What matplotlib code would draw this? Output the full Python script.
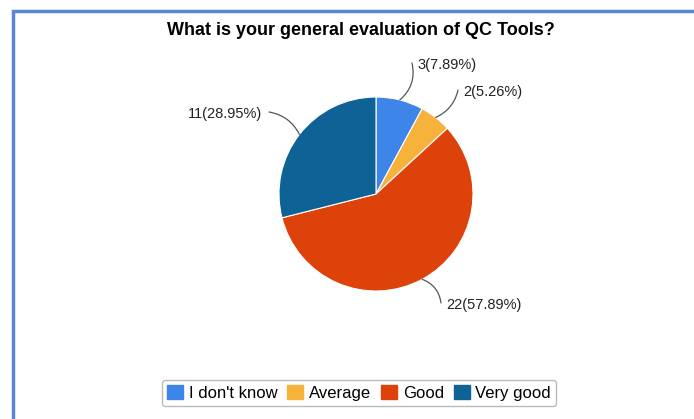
import matplotlib.pyplot as plt
import numpy as np
from matplotlib.patches import Patch

plt.rcParams['font.family'] = ['Liberation Sans', 'DejaVu Sans']

categories = ["I don't know", "Average", "Good", "Very good"]
counts = [3, 2, 22, 11]
colors = ["#3d85e8", "#f7b23b", "#dd420b", "#0e6295"]
title = "What is your general evaluation of QC Tools?"

# label position (pixels from top-left) for each slice
label_pos = [(417, 65), (463, 92), (446, 305), (262, 114)]
label_ha = ["left", "left", "left", "right"]
line_rad = [-0.3, -0.25, 0.3, -0.25]

W, H = 694, 419
fig = plt.figure(figsize=(W / 100, H / 100), dpi=100)
ax = fig.add_axes([0, 0, 1, 1])

cx, cy, r = 376, H - 194, 97
wedges, _ = ax.pie(counts, colors=colors, startangle=90, counterclock=False,
                   center=(cx, cy), radius=r,
                   wedgeprops=dict(edgecolor="white", linewidth=0.8))

total = sum(counts)
for w, n, (tx, ty), ha, rad in zip(wedges, counts, label_pos, label_ha, line_rad):
    ang = np.deg2rad((w.theta1 + w.theta2) / 2)
    px, py = cx + r * np.cos(ang), cy + r * np.sin(ang)
    txt = f"{n}({n / total * 100:.2f}%)"
    ex = tx - 5 if ha == "left" else tx + 7
    ax.annotate("", xy=(px, py), xytext=(ex, H - ty + 2),
                arrowprops=dict(arrowstyle="-", color="#555555", lw=0.9,
                                connectionstyle=f"arc3,rad={rad}",
                                shrinkA=0, shrinkB=0))
    ax.text(tx, H - ty, txt, ha=ha, va="center", fontsize=10.5, color="#222222")

ax.text(361, H - 31, title, ha="center", va="center", fontsize=13,
        fontweight="bold", color="black")

# blue frame along the top and left
ax.plot([13, 13, W], [0, H - 11, H - 11], color="#5b85d6", lw=2.5,
        solid_joinstyle="miter")

ax.set_xlim(0, W)
ax.set_ylim(0, H)
ax.set_aspect("auto")
ax.axis("off")

handles = [Patch(facecolor=c, edgecolor=c) for c in colors]
leg = fig.legend(handles, categories, loc="center", bbox_to_anchor=(359 / W, 1 - 393 / H),
                 ncol=4, fontsize=12, frameon=True, fancybox=True,
                 handlelength=0.95, handleheight=0.95, handletextpad=0.35,
                 columnspacing=0.6, borderpad=0.3, borderaxespad=0,
                 edgecolor="#aaaaaa")
leg.get_frame().set_linewidth(1.0)

fig.savefig("out.png", dpi=100)
